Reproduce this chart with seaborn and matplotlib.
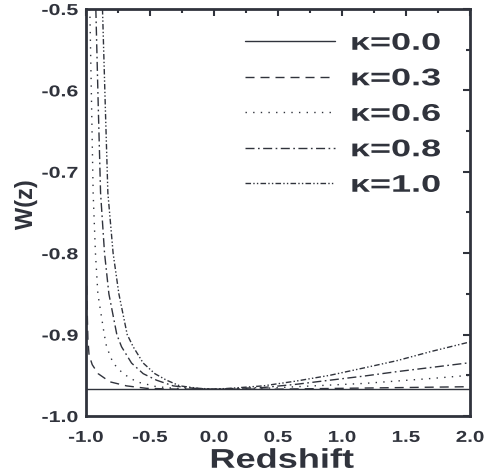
import matplotlib
matplotlib.use("Agg")
import matplotlib.pyplot as plt
from matplotlib.patheffects import AbstractPathEffect
from matplotlib.ticker import MultipleLocator, FormatStrFormatter
from matplotlib.transforms import Affine2D
import pandas as pd
import seaborn as sns

sns.set_theme(style="white")
plt.rcParams["font.family"] = ["Liberation Sans", "DejaVu Sans"]
plt.rcParams["font.weight"] = "bold"

INK = "#30333c"

# values
labels = ["κ=0.0", "κ=0.3", "κ=0.6", "κ=0.8", "κ=1.0"]

z00 = [-1.0, 2.0]
w00 = [-0.967, -0.967]

z03 = [-0.993, -0.988, -0.984, -0.975, -0.95, -0.904, -0.8125, -0.682, -0.526,
       -0.3, 0.0, 0.5, 1.0, 1.5, 2.0]
w03 = [-0.84, -0.88, -0.905, -0.925, -0.937, -0.948, -0.958, -0.963, -0.966,
       -0.967, -0.967, -0.967, -0.966, -0.965, -0.964]

z06 = [-0.969, -0.955, -0.943, -0.925, -0.906, -0.856, -0.838, -0.787, -0.709,
       -0.604, -0.448, -0.30, 0.0, 0.40, 0.646, 0.906, 1.17, 1.43, 1.69, 2.0]
w06 = [-0.50, -0.62, -0.726, -0.80, -0.85, -0.90, -0.915, -0.935, -0.948,
       -0.958, -0.964, -0.966, -0.967, -0.966, -0.964, -0.962, -0.960, -0.957,
       -0.954, -0.950]

z08 = [-0.922, -0.903, -0.885, -0.854, -0.820, -0.758, -0.721, -0.643, -0.552,
       -0.448, -0.318, -0.15, 0.0, 0.385, 0.646, 0.906, 1.17, 1.43, 1.69, 2.0]
w08 = [-0.50, -0.62, -0.726, -0.80, -0.85, -0.90, -0.915, -0.935, -0.948,
       -0.956, -0.963, -0.966, -0.967, -0.965, -0.961, -0.956, -0.951, -0.9455,
       -0.9405, -0.9345]

z10 = [-0.870, -0.848, -0.828, -0.787, -0.742, -0.677, -0.630, -0.552, -0.461,
       -0.370, -0.266, -0.12, 0.0, 0.125, 0.385, 0.646, 0.906, 1.17, 1.43,
       1.69, 2.0]
w10 = [-0.50, -0.62, -0.726, -0.80, -0.85, -0.90, -0.915, -0.935, -0.948,
       -0.956, -0.963, -0.966, -0.967, -0.966, -0.963, -0.957, -0.950, -0.941,
       -0.932, -0.921, -0.909]

series = [(z00, w00), (z03, w03), (z06, w06), (z08, w08), (z10, w10)]
styles = ["-", (0, (6.5, 4.3)), (0, (1.0, 4.5)), (0, (6.5, 2.5, 1.2, 2.5)),
          (0, (4.0, 1.6, 1.0, 1.6, 1.0, 1.6))]


class Widen(AbstractPathEffect):
    # the reference text looks stretched sideways, so widen glyphs in display x
    def __init__(self, sx, anchor="center"):
        super().__init__()
        self.sx = sx
        self.anchor = anchor

    def draw_path(self, renderer, gc, tpath, affine, rgbFace=None):
        if len(tpath.vertices) == 0:
            return
        xs = affine.transform(tpath.vertices)[:, 0]
        if self.anchor == "left":
            x0 = xs.min()
        elif self.anchor == "right":
            x0 = xs.max()
        else:
            x0 = 0.5 * (xs.min() + xs.max())
        t = affine + Affine2D().translate(-x0, 0).scale(self.sx, 1).translate(x0, 0)
        renderer.draw_path(gc, tpath, t, rgbFace)


fig = plt.figure(figsize=(4.85, 4.73), dpi=100)
ax = fig.add_axes([0.177, 0.1205, 0.792, 0.8605])

for lab, (z, w), ls in zip(labels, series, styles):
    df = pd.DataFrame({"z": z, "w": w})
    sns.lineplot(data=df, x="z", y="w", ax=ax, color=INK, linestyle=ls,
                 linewidth=1.0, sort=False, errorbar=None, label=lab,
                 legend=False)

ax.set_xlim(-1.0, 2.0)
ax.set_ylim(-1.0, -0.5)
ax.xaxis.set_major_locator(MultipleLocator(0.5))
ax.xaxis.set_minor_locator(MultipleLocator(0.25))
ax.yaxis.set_major_locator(MultipleLocator(0.1))
ax.yaxis.set_minor_locator(MultipleLocator(0.05))
ax.xaxis.set_major_formatter(FormatStrFormatter("%.1f"))
ax.yaxis.set_major_formatter(FormatStrFormatter("%.1f"))

ax.tick_params(which="both", direction="in", top=True, right=True,
               color=INK, width=1.5, labelsize=11.4, labelcolor=INK)
ax.tick_params(axis="x", which="major", pad=10)
ax.tick_params(axis="y", which="major", pad=5.5)
ax.tick_params(which="major", length=5)
ax.tick_params(which="minor", length=3)
for s in ax.spines.values():
    s.set_color(INK)
    s.set_linewidth(2.0)

for t in ax.xaxis.get_major_ticks():
    t.label1.set_path_effects([Widen(1.3, "center")])
for t in ax.yaxis.get_major_ticks():
    t.label1.set_path_effects([Widen(1.35, "right")])

ax.set_xlabel("Redshift", fontsize=19.5, fontweight="bold", color=INK,
              path_effects=[Widen(1.335, "center")])
ax.xaxis.set_label_coords(0.51, -0.078)
ax.set_ylabel("W(z)", fontsize=17, fontweight="bold", color=INK,
              path_effects=[Widen(1.05, "center")])
ax.yaxis.set_label_coords(-0.128, 0.518)

leg = ax.legend(loc="upper left", bbox_to_anchor=(0.414, 0.944), frameon=False,
                fontsize=17.3, handlelength=3.75, handletextpad=0.62,
                labelspacing=0.52, borderpad=0.0, borderaxespad=0.0)
for t in leg.get_texts():
    t.set_color(INK)
    t.set_fontweight("bold")
    t.set_path_effects([Widen(1.5, "left")])

fig.savefig("out.png", dpi=100)
